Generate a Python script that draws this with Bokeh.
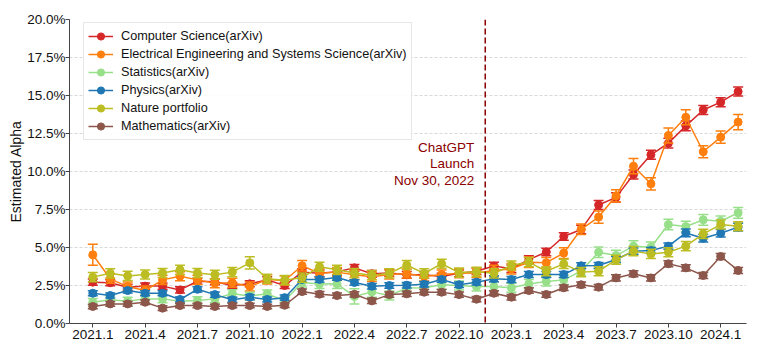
from bokeh.plotting import figure
from bokeh.models import (ColumnDataSource, FixedTicker, PrintfTickFormatter, Legend,
                          LegendItem, Span, Label, Range1d)
from bokeh.embed import file_html
from bokeh.resources import INLINE

months = ["2021.1", "2021.2", "2021.3", "2021.4", "2021.5", "2021.6", "2021.7", "2021.8",
          "2021.9", "2021.10", "2021.11", "2021.12",
          "2022.1", "2022.2", "2022.3", "2022.4", "2022.5", "2022.6", "2022.7", "2022.8",
          "2022.9", "2022.10", "2022.11", "2022.12",
          "2023.1", "2023.2", "2023.3", "2023.4", "2023.5", "2023.6", "2023.7", "2023.8",
          "2023.9", "2023.10", "2023.11", "2023.12",
          "2024.1", "2024.2"]
tick_labels = ["2021.1", "2021.4", "2021.7", "2021.10", "2022.1", "2022.4", "2022.7",
               "2022.10", "2023.1", "2023.4", "2023.7", "2023.10", "2024.1"]
launch_position = 22.5  # between 2022.11 and 2022.12 (Nov 30, 2022)

# Estimated alpha (%)
cs = [2.72, 2.68, 2.39, 2.46, 2.46, 2.21, 2.78, 2.75, 2.50, 2.61, 2.87, 2.50,
      3.38, 3.30, 3.40, 3.66, 3.27, 3.33, 3.20, 3.20, 3.09, 3.30, 3.44, 3.78,
      3.60, 4.20, 4.70, 5.72, 6.18, 7.80, 8.30, 9.80, 11.10, 11.86, 13.00, 14.05,
      14.56, 15.26]
cs_err = [0.2, 0.2, 0.2, 0.2, 0.2, 0.2, 0.2, 0.2, 0.2, 0.2, 0.2, 0.2,
          0.22, 0.22, 0.22, 0.22, 0.22, 0.22, 0.22, 0.22, 0.22, 0.22, 0.22, 0.25,
          0.25, 0.25, 0.25, 0.25, 0.28, 0.3, 0.3, 0.3, 0.3, 0.32, 0.32, 0.3,
          0.3, 0.3]
eess = [4.52, 2.94, 2.43, 2.17, 2.87, 3.11, 2.87, 2.65, 2.68, 2.43, 2.90, 2.83,
        3.80, 3.30, 3.38, 3.20, 3.07, 3.22, 3.29, 3.10, 3.22, 3.31, 3.33, 3.49,
        3.60, 4.03, 4.00, 4.63, 6.20, 7.00, 8.40, 10.35, 9.19, 12.37, 13.57, 11.30,
        12.26, 13.25]
eess_err = [0.69, 0.3, 0.3, 0.3, 0.3, 0.3, 0.3, 0.3, 0.3, 0.3, 0.3, 0.3,
            0.35, 0.3, 0.3, 0.3, 0.3, 0.3, 0.3, 0.3, 0.3, 0.3, 0.3, 0.35,
            0.35, 0.35, 0.35, 0.35, 0.35, 0.4, 0.4, 0.5, 0.4, 0.5, 0.5, 0.4,
            0.4, 0.5]
stat = [1.40, 1.56, 1.47, 1.62, 1.62, 1.47, 1.51, 1.62, 1.97, 1.80, 1.95, 1.50,
        2.70, 2.60, 2.61, 1.78, 2.08, 1.84, 2.33, 2.35, 2.55, 2.50, 2.43, 2.43,
        2.35, 2.60, 2.76, 2.87, 3.45, 4.69, 4.47, 5.09, 5.02, 6.51, 6.38, 6.82,
        6.73, 7.28]
stat_err = [0.25, 0.25, 0.25, 0.25, 0.25, 0.25, 0.25, 0.25, 0.25, 0.25, 0.25, 0.25,
            0.3, 0.3, 0.3, 0.5, 0.35, 0.3, 0.3, 0.3, 0.3, 0.3, 0.3, 0.3,
            0.3, 0.3, 0.3, 0.3, 0.3, 0.35, 0.35, 0.35, 0.35, 0.35, 0.35, 0.35,
            0.35, 0.35]
phys = [1.99, 1.84, 2.17, 1.99, 1.99, 1.58, 2.25, 1.90, 1.56, 1.73, 1.58, 1.70,
        2.90, 2.90, 3.02, 2.70, 2.45, 2.50, 2.52, 2.58, 2.90, 2.55, 2.72, 2.94,
        2.89, 3.22, 3.22, 3.22, 3.80, 3.82, 4.21, 4.76, 4.80, 5.09, 5.96, 5.61,
        5.94, 6.34]
phys_err = [0.17, 0.17, 0.17, 0.17, 0.17, 0.17, 0.17, 0.17, 0.17, 0.17, 0.17, 0.17,
            0.18, 0.18, 0.18, 0.18, 0.18, 0.18, 0.18, 0.18, 0.18, 0.18, 0.18, 0.2,
            0.2, 0.2, 0.2, 0.2, 0.2, 0.2, 0.2, 0.2, 0.2, 0.2, 0.25, 0.25,
            0.25, 0.25]
nature = [3.05, 3.30, 3.13, 3.22, 3.32, 3.53, 3.32, 3.21, 3.38, 3.99, 2.94, 2.85,
          3.02, 3.73, 3.53, 3.32, 3.18, 3.30, 3.85, 3.30, 3.93, 3.35, 3.40, 3.30,
          3.82, 4.04, 3.44, 3.92, 3.38, 3.44, 4.19, 4.76, 4.58, 4.69, 5.09, 5.90,
          6.51, 6.40]
nature_err = [0.3, 0.3, 0.3, 0.3, 0.3, 0.3, 0.3, 0.3, 0.3, 0.4, 0.3, 0.3,
              0.3, 0.3, 0.3, 0.3, 0.3, 0.3, 0.3, 0.3, 0.3, 0.3, 0.3, 0.3,
              0.3, 0.3, 0.3, 0.3, 0.3, 0.3, 0.3, 0.3, 0.3, 0.3, 0.3, 0.3,
              0.3, 0.3]
math = [1.12, 1.29, 1.29, 1.40, 1.01, 1.18, 1.18, 1.12, 1.18, 1.18, 1.12, 1.20,
        2.10, 1.93, 1.84, 1.92, 1.49, 1.90, 1.95, 2.06, 2.06, 1.90, 1.60, 1.99,
        1.73, 2.17, 1.91, 2.35, 2.55, 2.39, 3.00, 3.27, 3.00, 3.93, 3.66, 3.16,
        4.41, 3.49]
math_err = [0.15, 0.15, 0.15, 0.15, 0.15, 0.15, 0.15, 0.15, 0.15, 0.15, 0.15, 0.15,
            0.17, 0.17, 0.17, 0.17, 0.17, 0.17, 0.17, 0.17, 0.17, 0.17, 0.17, 0.17,
            0.18, 0.18, 0.18, 0.18, 0.18, 0.18, 0.2, 0.2, 0.2, 0.2, 0.2, 0.2,
            0.2, 0.2]

series = [
    ("Computer Science(arXiv)", cs, cs_err, "#d62728"),
    ("Electrical Engineering and Systems Science(arXiv)", eess, eess_err, "#ff7f0e"),
    ("Statistics(arXiv)", stat, stat_err, "#98df8a"),
    ("Physics(arXiv)", phys, phys_err, "#1f77b4"),
    ("Nature portfolio", nature, nature_err, "#bcbd22"),
    ("Mathematics(arXiv)", math, math_err, "#8c564b"),
]

FONT = "Liberation Sans"

p = figure(width=753, height=347, output_backend="svg", toolbar_location=None,
           x_range=Range1d(-1.336, 37.48), y_range=Range1d(0, 20),
           min_border_left=69, min_border_right=7, min_border_top=19, min_border_bottom=24)
p.outline_line_color = None
p.xgrid.grid_line_color = None
p.ygrid.grid_line_color = "#cfcfcf"
p.ygrid.grid_line_dash = "3 2"
p.ygrid.grid_line_width = 0.8

xs = list(range(len(months)))
tick_pos = [months.index(t) for t in tick_labels]
p.xaxis.ticker = FixedTicker(ticks=tick_pos)
p.xaxis.major_label_overrides = {pos: lab for pos, lab in zip(tick_pos, tick_labels)}
p.yaxis.ticker = FixedTicker(ticks=[0, 2.5, 5, 7.5, 10, 12.5, 15, 17.5, 20])
p.yaxis.formatter = PrintfTickFormatter(format="%.1f%%")
p.yaxis.axis_label = "Estimated Alpha"
for ax in (p.xaxis, p.yaxis):
    ax.axis_line_color = "#444444"
    ax.major_tick_line_color = "#444444"
    ax.minor_tick_line_color = None
    ax.major_tick_out = 4
    ax.major_tick_in = 0
    ax.major_label_text_font = FONT
    ax.major_label_text_font_size = "13.5px"
    ax.major_label_text_color = "#111111"
    ax.major_label_standoff = 0
p.xaxis.major_label_standoff = 2
p.yaxis.axis_label_text_font = FONT
p.yaxis.axis_label_text_font_size = "14px"
p.yaxis.axis_label_text_font_style = "normal"
p.yaxis.axis_label_text_color = "#111111"
p.yaxis.axis_label_standoff = 0

items = []
for name, vals, errs, color in series:
    src = ColumnDataSource(dict(
        x=xs, y=vals,
        lo=[v - e for v, e in zip(vals, errs)],
        hi=[v + e for v, e in zip(vals, errs)],
    ))
    p.segment(x0="x", y0="lo", x1="x", y1="hi", source=src, line_color=color, line_width=1.5)
    p.scatter(x="x", y="lo", source=src, marker="dash", size=10, line_color=color, line_width=1.5)
    p.scatter(x="x", y="hi", source=src, marker="dash", size=10, line_color=color, line_width=1.5)
    lr = p.line(x="x", y="y", source=src, line_color=color, line_width=1.5)
    cr = p.scatter(x="x", y="y", source=src, marker="circle", size=8,
                   fill_color=color, line_color=color)
    items.append(LegendItem(label=name, renderers=[lr, cr]))

legend = Legend(items=items, location=(14, 183))
legend.label_text_font = FONT
legend.label_text_font_size = "12.7px"
legend.label_text_color = "#111111"
legend.glyph_width = 25
legend.glyph_height = 18
legend.label_height = 18
legend.spacing = 0
legend.padding = 4
legend.margin = 0
legend.label_standoff = 8
legend.border_line_color = "#d0d0d0"
legend.border_line_width = 1
legend.background_fill_alpha = 0.9
p.add_layout(legend, "center")

span = Span(location=launch_position, dimension="height", line_color="#8b0000",
            line_dash="6 3", line_width=1.5)
p.add_layout(span)

lbl = Label(x=launch_position, y=12.1, x_offset=-11, text="ChatGPT\nLaunch\nNov 30, 2022",
            text_align="right", text_baseline="top", text_color="#8b0000",
            text_font=FONT, text_font_size="13.5px", text_line_height=1.1)
p.add_layout(lbl)

open("out.html", "w").write(file_html(p, INLINE))
